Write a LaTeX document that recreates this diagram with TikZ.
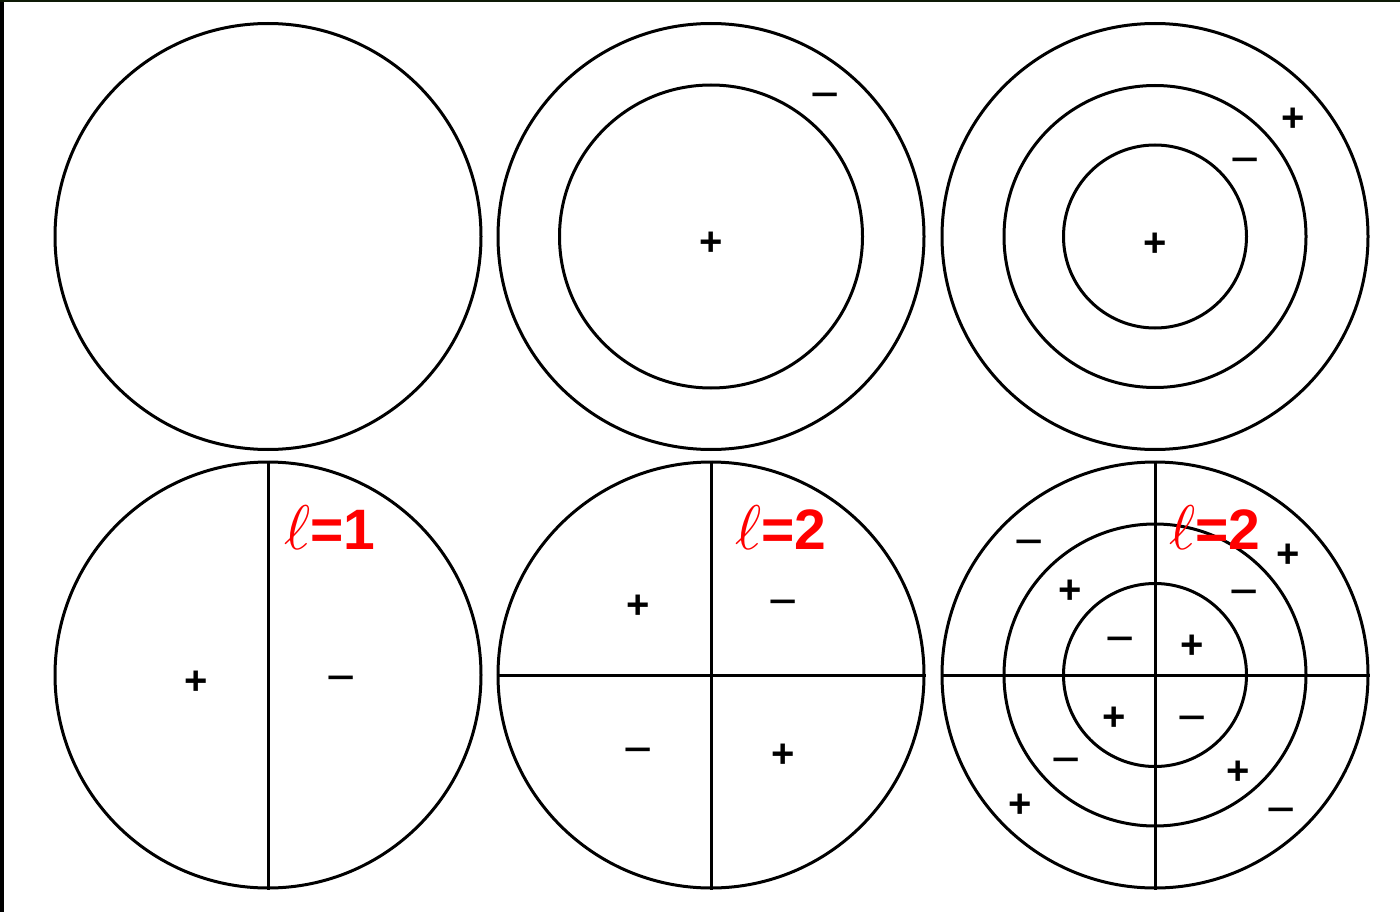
\documentclass[tikz,border=0pt]{standalone}
\usepackage{fontspec}
\setmainfont{Liberation Sans}
\newfontfamily\ellfont{Latin Modern Math}
\definecolor{darktop}{HTML}{0E1A06}
\begin{document}
\begin{tikzpicture}[x=1pt,y=-1pt,
  ring/.style={circle, draw, line width=3pt, inner sep=0pt, minimum size=#1},
  seg/.style={line width=3pt},
  plus/.style={font=\fontsize{40}{40}\selectfont\bfseries, inner sep=0pt, yshift=-3pt},
  minus/.style={font=\fontsize{50}{50}\selectfont, inner sep=0pt, yshift=-9pt},
  lbl/.style={text=red, font=\fontsize{57}{57}\selectfont\bfseries, inner sep=0pt},
  ellf/.style={}]
\fill[white] (0,0) rectangle (1400,912);
\fill[black] (0,0) rectangle (4,912);
\fill[darktop] (0,0) rectangle (1400,2);
\useasboundingbox (0,0) rectangle (1400,912);
% top row
\node[ring=426pt] (a1) at (268,236.5) {};
\node[ring=426pt] (b1) at (711,236.5) {};
\node[ring=303pt] (b2) at (711,236.5) {};
\node[ring=426pt] (c1) at (1155,236.5) {};
\node[ring=302pt] (c2) at (1155,236.5) {};
\node[ring=183pt] (c3) at (1155,236.5) {};
\node[minus] (bm) at (825,93) {−};
\node[plus] (bp) at (711,241) {+};
\node[plus] (cp1) at (1293,117) {+};
\node[minus] (cm1) at (1245,158) {−};
\node[plus] (cp2) at (1155,242) {+};
% bottom row
\node[ring=426pt] (d1) at (268,675) {};
\draw[seg] (d1.north) -- (d1.south);
\node[ring=426pt] (e1) at (711,675) {};
\draw[seg] (e1.north) -- (e1.south);
\draw[seg] (e1.west) -- (e1.east);
\node[ring=426pt] (f1) at (1155,675) {};
\node[ring=302pt] (f2) at (1155,675) {};
\node[ring=183pt] (f3) at (1155,675) {};
\draw[seg] (f1.north) -- (f1.south);
\draw[seg] (f1.west) -- (f1.east);
\node[plus] (dp) at (196,680) {+};
\node[minus] (dm) at (341,676) {−};
\node[plus] (ep1) at (638,604) {+};
\node[minus] (em1) at (783,600) {−};
\node[minus] (em2) at (638,748) {−};
\node[plus] (ep2) at (783,753) {+};
\node[minus] (fm1) at (1029,540) {−};
\node[plus] (fp1) at (1288,553) {+};
\node[plus] (fp2) at (1070,589) {+};
\node[minus] (fm2) at (1244,590) {−};
\node[minus] (fm3) at (1120,637) {−};
\node[plus] (fp3) at (1192,644) {+};
\node[plus] (fp4) at (1114,716) {+};
\node[minus] (fm4) at (1192,716) {−};
\node[minus] (fm5) at (1066,758) {−};
\node[plus] (fp5) at (1238,770) {+};
\node[plus] (fp6) at (1020,803) {+};
\node[minus] (fm6) at (1281,808) {−};
\node[lbl] (l1) at (330,528) {{\ellfont\mdseries\fontsize{63}{63}\selectfont ℓ}=1};
\node[lbl] (l2) at (781,528) {{\ellfont\mdseries\fontsize{63}{63}\selectfont ℓ}=2};
\node[lbl] (l3) at (1215,528) {{\ellfont\mdseries\fontsize{63}{63}\selectfont ℓ}=2};
\end{tikzpicture}
\end{document}
